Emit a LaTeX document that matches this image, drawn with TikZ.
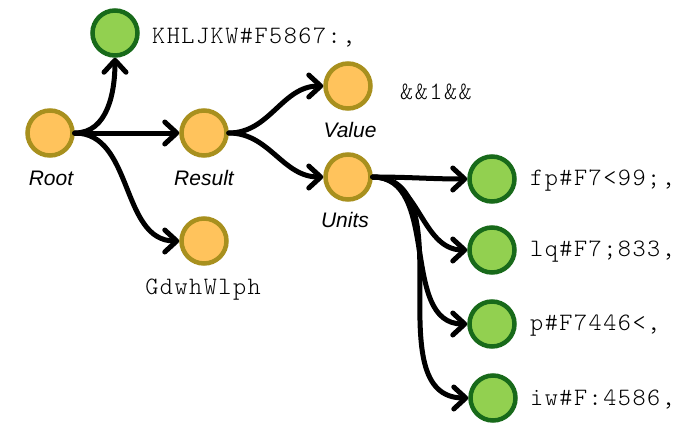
\documentclass[tikz,border=0pt]{standalone}
\usepackage{fontspec}
\setmainfont{Liberation Sans}
\newfontfamily\monof[LetterSpace=6]{lmmonolt10-regular.otf}
\usetikzlibrary{arrows.meta}
\definecolor{orfill}{HTML}{FFC35C}
\definecolor{ordraw}{HTML}{A8901E}
\definecolor{grfill}{HTML}{92D050}
\definecolor{grdraw}{HTML}{186A1A}
\begin{document}
\begin{tikzpicture}[x=1pt,y=-1pt,
  onode/.style={circle,fill=orfill,draw=ordraw,line width=4.5pt,minimum size=45pt,inner sep=0pt},
  gnode/.style={circle,fill=grfill,draw=grdraw,line width=4.5pt,minimum size=45pt,inner sep=0pt},
  conn/.style={line width=5pt,line cap=round,-{Straight Barb[length=12pt,width=22pt,line cap=round,line join=round]}},
  lab/.style={font=\itshape\fontsize{21}{24}\selectfont,inner sep=0pt},
  mono/.style={font=\monof\fontsize{25}{28}\selectfont,inner sep=0pt,anchor=west}]
\useasboundingbox (0,0) rectangle (684,423);
% nodes
\node[onode] (root) at (50,133) {};
\node[gnode] (top) at (115,33) {};
\node[onode] (result) at (204,133) {};
\node[onode] (dt) at (204,241) {};
\node[onode] (value) at (348,86) {};
\node[onode] (units) at (348,177) {};
\node[gnode] (g1) at (492,179) {};
\node[gnode] (g2) at (492,250) {};
\node[gnode] (g3) at (492,324) {};
\node[gnode] (g4) at (493,398) {};
% labels
\node[lab] (lroot) at (51,178) {Root};
\node[lab] (lresult) at (204,178) {Result};
\node[lab] (lvalue) at (350,130) {Value};
\node[lab] (lunits) at (345,220) {Units};
\node[mono] (ttop) at (152,37) {KHLJKW\#F5867:,};
\node[mono] (tvalue) at (400,92) {\&\&1\&\&};
\node[mono,anchor=center] (tdt) at (203,290) {GdwhWlph};
\node[mono] (t1) at (530,181) {fp\#F7<99;,};
\node[mono] (t2) at (530,252) {lq\#F7;833,};
\node[mono] (t3) at (530,326) {p\#F7446<,};
\node[mono] (t4) at (530,400) {iw\#F:4586,};
% connectors
\draw[conn] (root.east) to[out=0,in=-90] (top.south);
\draw[conn] (root.east) -- (result.west);
\draw[conn] (root.east) to[out=0,in=180] (dt.west);
\draw[conn] (result.east) to[out=0,in=180] (value.west);
\draw[conn] (result.east) to[out=0,in=180] (units.west);
\draw[conn] (units.east) to[out=0,in=180] (g1.west);
\draw[conn] (units.east) to[out=0,in=180] (g2.west);
\draw[conn] (units.east) to[out=0,in=180] (g3.west);
\draw[conn] (units.east) to[out=0,in=180] (g4.west);
\end{tikzpicture}
\end{document}
